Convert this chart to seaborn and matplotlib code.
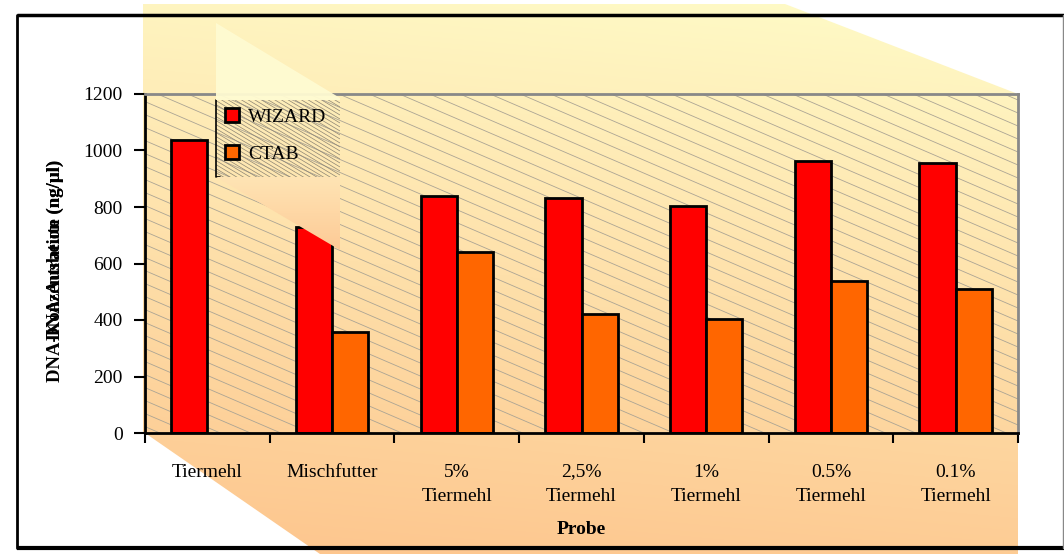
import numpy as np
import pandas as pd
import matplotlib
matplotlib.use("Agg")
import matplotlib.pyplot as plt
import seaborn as sns
from matplotlib.patches import Polygon, Rectangle
from matplotlib.collections import LineCollection
from matplotlib.colors import LinearSegmentedColormap

# ---- data -------------------------------------------------------------
categories = ["Tiermehl", "Mischfutter", "5%\nTiermehl", "2,5%\nTiermehl",
              "1%\nTiermehl", "0.5%\nTiermehl", "0.1%\nTiermehl"]
wizard = [1038, 728, 839, 831, 804, 963, 955]
ctab = [np.nan, 357, 641, 422, 405, 538, 509]
methods = ["WIZARD", "CTAB"]
method_colors = {"WIZARD": "#FF0000", "CTAB": "#FF6600"}
yticks = [0, 200, 400, 600, 800, 1000, 1200]

df = pd.DataFrame({
    "Probe": categories * 2,
    "Methode": ["WIZARD"] * len(categories) + ["CTAB"] * len(categories),
    "Wert": wizard + ctab,
})

# ---- style ------------------------------------------------------------
sns.set_theme(style="white")
plt.rcParams["font.family"] = ["Liberation Serif", "DejaVu Serif"]
plt.rcParams.update({"text.color": "black", "axes.labelcolor": "black",
                     "xtick.color": "black", "ytick.color": "black"})

W, H = 1064, 554
L, R, T, B = 145, 1018, 94, 433      # plot area in pixels

fig = plt.figure(figsize=(W / 100, H / 100), dpi=100)
fig.patch.set_facecolor("white")

# ---- background layer (pixel coordinates) -----------------------------
bg = fig.add_axes([0, 0, 1, 1], zorder=0)
bg.set_xlim(0, W)
bg.set_ylim(H, 0)
bg.axis("off")

yy, xx = np.mgrid[0:H, 0:W]
shade = 0.85 * yy / H + 0.15 * (1 - xx / W)
warm = LinearSegmentedColormap.from_list("warm", ["#FFFCC8", "#FDC48C"])
img = bg.imshow(shade, cmap=warm, vmin=0, vmax=1, extent=(0, W, H, 0),
                origin="upper", interpolation="bilinear", aspect="auto", zorder=1)
wall = Polygon([(143, 4), (785, 4), (R, T), (R, H), (320, H), (L, B), (143, B)],
               closed=True, facecolor="none", edgecolor="none")
bg.add_patch(wall)
img.set_clip_path(wall)

# diagonal hatching inside the plot area
slope = 0.43
span = slope * (R - L)
segs = [[(L, c), (R, c + span)] for c in np.arange(T - span - 20, B + 20, 13)]
hatch = LineCollection(segs, colors="#ABA494", linewidths=0.6, zorder=2)
bg.add_collection(hatch)
hatch.set_clip_path(Rectangle((L, T), R - L, B - T, transform=bg.transData))

# legend panel with denser hatching
lx0, ly0, lx1, ly1 = 216, 100, 340, 177
lspan = 0.6 * (lx1 - lx0)
lsegs = [[(lx0, c), (lx1, c + lspan)] for c in np.arange(ly0 - lspan - 5, ly1 + 5, 4)]
lhatch = LineCollection(lsegs, colors="#8C8474", linewidths=0.5, zorder=2)
bg.add_collection(lhatch)
lhatch.set_clip_path(Rectangle((lx0, ly0), lx1 - lx0, ly1 - ly0, transform=bg.transData))
bg.plot([lx0, lx0, lx0 + 4], [ly0, ly1, ly1], color="black", lw=1.2, zorder=3)

# chart frame
bg.plot([17, W], [15, 15], color="black", lw=2.5, zorder=4, solid_capstyle="butt")
bg.plot([17, 17], [15, 548], color="black", lw=2, zorder=4)
bg.plot([17, W], [548, 548], color="black", lw=3, zorder=4, solid_capstyle="butt")
bg.plot([1063, 1063], [15, 548], color="#888888", lw=1, zorder=4)

# ---- bars ---------------------------------------------------------------
ax = fig.add_axes([L / W, 1 - B / H, (R - L) / W, (B - T) / H], zorder=2)
ax.patch.set_alpha(0)
sns.barplot(data=df, x="Probe", y="Wert", hue="Methode", order=categories,
            hue_order=methods, palette=method_colors, width=0.58,
            saturation=1, errorbar=None, edgecolor="black", linewidth=2,
            legend=False, ax=ax)

ax.set_xlim(-0.5, len(categories) - 0.5)
ax.set_ylim(0, 1200)
ax.set_yticks(yticks)
ax.set_xticks(np.arange(-0.5, len(categories), 1), minor=True)

for side in ("left", "bottom"):
    ax.spines[side].set_color("black")
    ax.spines[side].set_linewidth(2)
for side in ("top", "right"):
    ax.spines[side].set_color("#888888")
    ax.spines[side].set_linewidth(2)

ax.tick_params(axis="y", which="major", left=True, direction="out", length=8,
               width=1.5, color="black", labelsize=14, pad=8, labelcolor="black")
ax.tick_params(axis="x", which="major", bottom=True, length=0, labelsize=14,
               pad=22, labelcolor="black")
ax.tick_params(axis="x", which="minor", bottom=True, direction="out", length=7,
               width=1.5, color="black")
for lbl in ax.get_xticklabels():
    lbl.set_linespacing(1.55)

ax.set_xlabel("Probe", fontsize=14, fontweight="bold", color="black")
ax.xaxis.set_label_coords(0.5, -(530 - B) / (B - T))
ax.xaxis.label.set_va("center")
ax.set_ylabel("")

# two axis titles printed over each other
for title in ("DNA-Konzentration (ng/µl)", "DNA-Ausbeute (ng/µl)"):
    fig.text(55 / W, 1 - 160 / H, title, rotation=90, ha="center", va="top",
             fontsize=13.5, fontweight="bold", color="black")

handles = [Rectangle((0, 0), 1, 1, facecolor=method_colors[m], edgecolor="black",
                     linewidth=2) for m in methods]
leg = ax.legend(handles, methods, loc="upper left", bbox_to_anchor=(219 / W, 1 - 102 / H),
                bbox_transform=fig.transFigure, frameon=False, fontsize=14,
                handlelength=0.75, handleheight=0.75, labelspacing=1.0,
                handletextpad=0.45, borderaxespad=0, borderpad=0.3)
for txt in leg.get_texts():
    txt.set_color("black")

# ---- light facets around the legend panel ------------------------------
top = fig.add_axes([0, 0, 1, 1], zorder=5)
top.set_xlim(0, W)
top.set_ylim(H, 0)
top.axis("off")
top.patch.set_alpha(0)
top.add_patch(Polygon([(lx0, 23), (lx1, 98), (lx1, ly0), (lx0, ly0)], closed=True,
                      facecolor="#FFFBD2", edgecolor="none", alpha=0.95))
fade = LinearSegmentedColormap.from_list("fade", ["#FFE4B4", "#FDCA96"])
facet = Polygon([(lx0, ly1), (lx1, ly1), (lx1, 250)], closed=True,
                facecolor="none", edgecolor="none")
top.add_patch(facet)
fimg = top.imshow(np.linspace(0, 1, 80)[:, None], cmap=fade, vmin=0, vmax=1,
                  extent=(lx0, lx1, 250, ly1), origin="upper", aspect="auto")
fimg.set_clip_path(facet)
top.set_xlim(0, W)
top.set_ylim(H, 0)

fig.savefig("out.png", dpi=100)
